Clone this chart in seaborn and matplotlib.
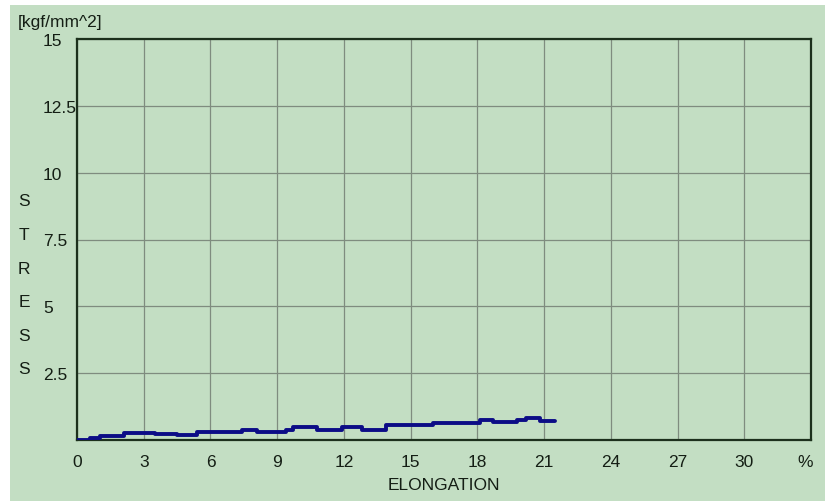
import matplotlib
matplotlib.use("Agg")
import matplotlib.pyplot as plt
import seaborn as sns
import pandas as pd
from matplotlib.patches import Rectangle

# ---- data ----
elongation = [0.0, 0.6, 1.05, 2.1, 3.5, 4.5, 5.4, 7.4, 8.1, 9.4, 9.7, 10.8,
              11.9, 12.8, 13.9, 16.0, 18.1, 18.7, 19.8, 20.2, 20.8, 21.5]
stress = [0.0, 0.08, 0.16, 0.25, 0.21, 0.17, 0.31, 0.37, 0.31, 0.37, 0.50, 0.39,
          0.50, 0.39, 0.57, 0.64, 0.74, 0.69, 0.76, 0.82, 0.72, 0.72]
x_ticks = [0, 3, 6, 9, 12, 15, 18, 21, 24, 27, 30]
y_ticks = [2.5, 5, 7.5, 10, 12.5, 15]
y_tick_labels = ["2.5", "5", "7.5", "10", "12.5", "15"]
y_letters = ["S", "T", "R", "E", "S", "S"]

df = pd.DataFrame({"elongation": elongation, "stress": stress})

sns.set_style("white")
plt.rcParams["font.family"] = ["Liberation Sans", "DejaVu Sans"]

BG = "#c3dec3"
TXT = "#141e14"
FS = 12.5
fig = plt.figure(figsize=(8.25, 5.02), dpi=100, facecolor="white")
# green panel (white strips at top and left as in the reference)
fig.patches.append(Rectangle((10 / 825, 0), 1 - 10 / 825, 1 - 6 / 502,
                             transform=fig.transFigure, facecolor=BG,
                             edgecolor="none", zorder=-10))

ax = fig.add_axes([77 / 825, 1 - 441 / 502, (811 - 77) / 825, (441 - 40) / 502])
ax.set_facecolor(BG)

sns.lineplot(data=df, x="elongation", y="stress", ax=ax, color="#0c0c86",
             linewidth=2.8, drawstyle="steps-post", zorder=5)

ax.set_xlim(0, 33)
ax.set_ylim(0, 15)
ax.set_xticks(x_ticks)
ax.set_xticklabels([str(t) for t in x_ticks])
ax.set_yticks(y_ticks)
ax.set_yticklabels(y_tick_labels)
ax.grid(True, color="#7f8c7f", linewidth=0.9)
ax.set_axisbelow(True)

for s in ax.spines.values():
    s.set_color("#1c301c")
    s.set_linewidth(1.6)

ax.tick_params(axis="both", length=0, labelsize=FS, colors=TXT)
ax.tick_params(axis="x", pad=10)
ax.tick_params(axis="y", pad=24.5)
for lab in ax.get_yticklabels():
    lab.set_horizontalalignment("left")

ax.set_xlabel("ELONGATION", fontsize=FS, color=TXT, labelpad=6)
ax.set_ylabel("")

# percent sign at the end of the x axis
ax.text(32.75, -0.035, "%", transform=ax.get_xaxis_transform(),
        ha="center", va="top", fontsize=FS, color=TXT)

# vertical "STRESS" label
for i, ch in enumerate(y_letters):
    fig.text(24 / 825, 1 - (202 + i * 33.6) / 502, ch, ha="center", va="center",
             fontsize=FS, color=TXT)

fig.text(18 / 825, 1 - 22 / 502, "[kgf/mm^2]", ha="left", va="center",
         fontsize=FS, color=TXT)

fig.savefig("out.png", dpi=100, facecolor=fig.get_facecolor())
